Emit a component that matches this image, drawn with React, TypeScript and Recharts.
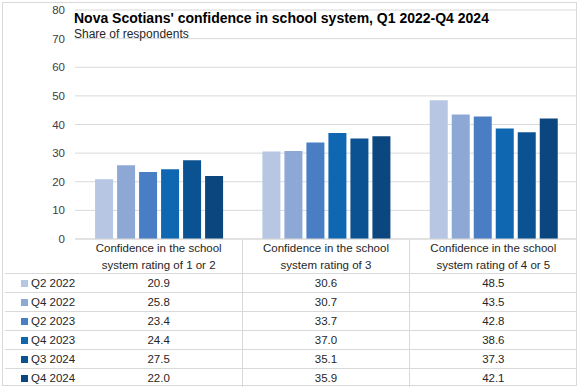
import React from 'react';
import { BarChart, Bar, XAxis, YAxis, CartesianGrid } from 'recharts';

const categories = [
  'Confidence in the school system rating of 1 or 2',
  'Confidence in the school system rating of 3',
  'Confidence in the school system rating of 4 or 5',
];
const categoryLines = [
  ['Confidence in the school', 'system rating of 1 or 2'],
  ['Confidence in the school', 'system rating of 3'],
  ['Confidence in the school', 'system rating of 4 or 5'],
];
const seriesNames = ['Q2 2022', 'Q4 2022', 'Q2 2023', 'Q4 2023', 'Q3 2024', 'Q4 2024'];
const q2_2022 = [20.9, 30.6, 48.5];
const q4_2022 = [25.8, 30.7, 43.5];
const q2_2023 = [23.4, 33.7, 42.8];
const q4_2023 = [24.4, 37.0, 38.6];
const q3_2024 = [27.5, 35.1, 37.3];
const q4_2024 = [22.0, 35.9, 42.1];
const seriesValues = [q2_2022, q4_2022, q2_2023, q4_2023, q3_2024, q4_2024];
const seriesColors = ['#b6c6e3', '#8ea8d5', '#4a7ec4', '#0f67b1', '#0b5292', '#0c467e'];
const yTicks = [0, 10, 20, 30, 40, 50, 60, 70, 80];

const data = categories.map((c, i) => {
  const row: Record<string, string | number> = { category: c };
  seriesValues.forEach((vals, s) => {
    row['s' + s] = vals[i];
  });
  return row;
});

const W = 579;
const H = 389;
const plotLeft = 75;
const plotRight = 577;
const plotBottom = 239;
const colW = (plotRight - plotLeft) / categories.length;
const headerBottom = 273.5;
const rowH = 19;
const grid = '#d9d9d9';
const textColor = '#262626';
const font = "'Liberation Sans', Arial, sans-serif";

export default function App() {
  return (
    <div
      style={{
        position: 'absolute',
        left: 0,
        top: 0,
        width: W,
        height: H,
        background: '#fff',
        fontFamily: font,
        color: textColor,
        overflow: 'hidden',
      }}
    >
      <div
        style={{
          position: 'absolute',
          left: 1.5,
          top: 2,
          width: 575,
          height: 384,
          border: `1px solid ${grid}`,
          boxSizing: 'border-box',
        }}
      />
      <div style={{ position: 'absolute', left: 0, top: 0 }}>
        <BarChart
          width={W}
          height={plotBottom + 11}
          data={data}
          margin={{ top: 10, right: W - plotRight, left: 0, bottom: 10 }}
          barCategoryGap="12%"
          barGap={4}
        >
          <CartesianGrid vertical={false} stroke={grid} strokeWidth={1} />
          <XAxis
            dataKey="category"
            tick={false}
            tickLine={false}
            axisLine={{ stroke: grid }}
            height={1}
          />
          <YAxis
            width={plotLeft}
            domain={[0, 80]}
            ticks={yTicks}
            tickLine={false}
            axisLine={false}
            tickMargin={4}
            interval={0}
            tick={{ fontSize: 11.5, fill: '#404040', fontFamily: font }}
          />
          {seriesNames.map((n, s) => (
            <Bar key={n} dataKey={'s' + s} name={n} fill={seriesColors[s]} isAnimationActive={false} />
          ))}
        </BarChart>
      </div>
      <div
        style={{
          position: 'absolute',
          left: 74,
          top: 11,
          fontSize: 14,
          lineHeight: '14px',
          fontWeight: 'bold',
          color: '#000',
          whiteSpace: 'nowrap',
        }}
      >
        Nova Scotians' confidence in school system, Q1 2022-Q4 2024
      </div>
      <div
        style={{
          position: 'absolute',
          left: 74,
          top: 28,
          fontSize: 12,
          lineHeight: '12px',
          color: textColor,
          whiteSpace: 'nowrap',
        }}
      >
        Share of respondents
      </div>
      {categoryLines.map((lines, i) => (
        <div
          key={'h' + i}
          style={{
            position: 'absolute',
            left: plotLeft + i * colW,
            width: colW,
            top: 240,
            fontSize: 11.5,
            lineHeight: '17px',
            textAlign: 'center',
            color: textColor,
          }}
        >
          <div>{lines[0]}</div>
          <div>{lines[1]}</div>
        </div>
      ))}
      {categories.slice(1).map((c, i) => (
        <div
          key={'v' + i}
          style={{
            position: 'absolute',
            left: plotLeft + (i + 1) * colW - 0.5,
            top: plotBottom,
            width: 1,
            height: H - plotBottom - 2,
            background: grid,
          }}
        />
      ))}
      {seriesNames.map((n, s) => (
        <React.Fragment key={'r' + s}>
          <div
            style={{
              position: 'absolute',
              left: 5,
              width: plotRight - 5,
              top: headerBottom + s * rowH - 0.5,
              height: 1,
              background: grid,
            }}
          />
          <div
            style={{
              position: 'absolute',
              left: 21,
              top: headerBottom + s * rowH + 6,
              width: 7,
              height: 7,
              background: seriesColors[s],
            }}
          />
          <div
            style={{
              position: 'absolute',
              left: 31,
              top: headerBottom + s * rowH,
              height: rowH,
              lineHeight: rowH + 'px',
              fontSize: 11.5,
              whiteSpace: 'nowrap',
            }}
          >
            {n}
          </div>
          {seriesValues[s].map((v, i) => (
            <div
              key={'c' + i}
              style={{
                position: 'absolute',
                left: plotLeft + i * colW,
                width: colW,
                top: headerBottom + s * rowH,
                height: rowH,
                lineHeight: rowH + 'px',
                fontSize: 11.5,
                textAlign: 'center',
              }}
            >
              {v.toFixed(1)}
            </div>
          ))}
        </React.Fragment>
      ))}
    </div>
  );
}
